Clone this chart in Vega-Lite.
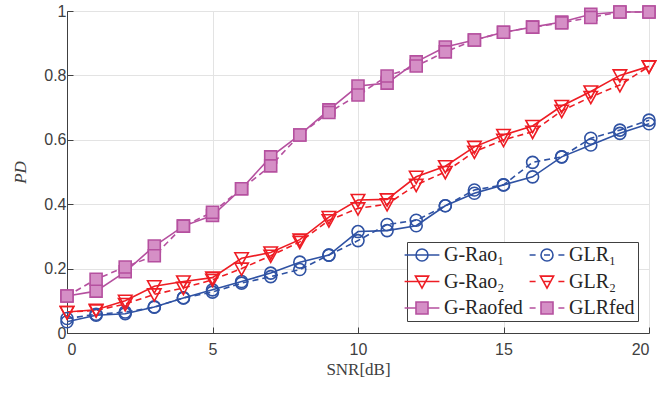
{
  "$schema": "https://vega.github.io/schema/vega-lite/v6.json",
  "width": 582,
  "height": 322,
  "autosize": {"type": "none"},
  "padding": {"left": 67, "top": 11, "right": 10, "bottom": 63},
  "background": "white",
  "config": {
    "view": {"stroke": "#404040", "strokeWidth": 1},
    "axis": {
      "grid": true,
      "gridColor": "#e3e3e3",
      "gridWidth": 1,
      "domainColor": "#404040",
      "tickColor": "#404040",
      "tickSize": -6,
      "labelFont": "Liberation Sans",
      "labelFontSize": 16,
      "labelColor": "#404040",
      "titleFont": "Liberation Serif",
      "titleFontWeight": "normal",
      "titleColor": "#404040"
    }
  },
  "data": {
    "values": [
      {"snr": 0, "G-Rao₁": 0.035, "GLR₁": 0.045, "G-Rao₂": 0.065, "GLR₂": 0.065, "G-Raofed": 0.115, "GLRfed": 0.115},
      {"snr": 1, "G-Rao₁": 0.055, "GLR₁": 0.058, "G-Rao₂": 0.072, "GLR₂": 0.07, "G-Raofed": 0.13, "GLRfed": 0.167},
      {"snr": 2, "G-Rao₁": 0.06, "GLR₁": 0.065, "G-Rao₂": 0.1, "GLR₂": 0.09, "G-Raofed": 0.19, "GLRfed": 0.205},
      {"snr": 3, "G-Rao₁": 0.081, "GLR₁": 0.08, "G-Rao₂": 0.145, "GLR₂": 0.12, "G-Raofed": 0.27, "GLRfed": 0.24},
      {"snr": 4, "G-Rao₁": 0.109, "GLR₁": 0.109, "G-Rao₂": 0.16, "GLR₂": 0.14, "G-Raofed": 0.332, "GLRfed": 0.332},
      {"snr": 5, "G-Rao₁": 0.134, "GLR₁": 0.127, "G-Rao₂": 0.172, "GLR₂": 0.165, "G-Raofed": 0.365, "GLRfed": 0.375},
      {"snr": 6, "G-Rao₁": 0.16, "GLR₁": 0.155, "G-Rao₂": 0.232, "GLR₂": 0.2, "G-Raofed": 0.448, "GLRfed": 0.448},
      {"snr": 7, "G-Rao₁": 0.186, "GLR₁": 0.175, "G-Rao₂": 0.25, "GLR₂": 0.24, "G-Raofed": 0.547, "GLRfed": 0.519},
      {"snr": 8, "G-Rao₁": 0.22, "GLR₁": 0.197, "G-Rao₂": 0.29, "GLR₂": 0.283, "G-Raofed": 0.615, "GLRfed": 0.615},
      {"snr": 9, "G-Rao₁": 0.242, "GLR₁": 0.242, "G-Rao₂": 0.36, "GLR₂": 0.35, "G-Raofed": 0.693, "GLRfed": 0.685},
      {"snr": 10, "G-Rao₁": 0.315, "GLR₁": 0.287, "G-Rao₂": 0.413, "GLR₂": 0.387, "G-Raofed": 0.767, "GLRfed": 0.739},
      {"snr": 11, "G-Rao₁": 0.318, "GLR₁": 0.337, "G-Rao₂": 0.415, "GLR₂": 0.4, "G-Raofed": 0.776, "GLRfed": 0.798},
      {"snr": 12, "G-Rao₁": 0.333, "GLR₁": 0.35, "G-Rao₂": 0.485, "GLR₂": 0.46, "G-Raofed": 0.842, "GLRfed": 0.829},
      {"snr": 13, "G-Rao₁": 0.395, "GLR₁": 0.395, "G-Rao₂": 0.518, "GLR₂": 0.5, "G-Raofed": 0.888, "GLRfed": 0.873},
      {"snr": 14, "G-Rao₁": 0.434, "GLR₁": 0.444, "G-Rao₂": 0.578, "GLR₂": 0.563, "G-Raofed": 0.91, "GLRfed": 0.91},
      {"snr": 15, "G-Rao₁": 0.46, "GLR₁": 0.46, "G-Rao₂": 0.615, "GLR₂": 0.6, "G-Raofed": 0.934, "GLRfed": 0.934},
      {"snr": 16, "G-Rao₁": 0.485, "GLR₁": 0.53, "G-Rao₂": 0.643, "GLR₂": 0.625, "G-Raofed": 0.95, "GLRfed": 0.95},
      {"snr": 17, "G-Rao₁": 0.547, "GLR₁": 0.547, "G-Rao₂": 0.705, "GLR₂": 0.69, "G-Raofed": 0.966, "GLRfed": 0.963},
      {"snr": 18, "G-Rao₁": 0.584, "GLR₁": 0.605, "G-Rao₂": 0.75, "GLR₂": 0.733, "G-Raofed": 0.99, "GLRfed": 0.98},
      {"snr": 19, "G-Rao₁": 0.62, "GLR₁": 0.63, "G-Rao₂": 0.8, "GLR₂": 0.77, "G-Raofed": 0.997, "GLRfed": 0.997},
      {"snr": 20, "G-Rao₁": 0.65, "GLR₁": 0.661, "G-Rao₂": 0.828, "GLR₂": 0.828, "G-Raofed": 0.997, "GLRfed": 0.997}
    ]
  },
  "transform": [
    {"fold": ["G-Rao₁", "GLR₁", "G-Rao₂", "GLR₂", "G-Raofed", "GLRfed"], "as": ["series", "pd"]}
  ],
  "encoding": {
    "x": {
      "field": "snr", "type": "quantitative",
      "scale": {"domain": [0, 20], "nice": false, "zero": false},
      "axis": {"values": [0, 5, 10, 15, 20], "title": "SNR[dB]", "titleFontSize": 17, "labelPadding": 14, "titlePadding": 4}
    },
    "y": {
      "field": "pd", "type": "quantitative",
      "scale": {"domain": [0, 1], "nice": false},
      "axis": {"values": [0, 0.2, 0.4, 0.6, 0.8, 1], "format": "~g", "title": "PD", "titleFontSize": 17, "titleFontStyle": "italic", "labelPadding": 7, "titlePadding": 14}
    },
    "stroke": {
      "field": "series", "type": "nominal",
      "scale": {
        "domain": ["G-Rao₁", "G-Rao₂", "G-Raofed", "GLR₁", "GLR₂", "GLRfed"],
        "range": ["#2f52a3", "#ee1d24", "#b5509f", "#2f52a3", "#ee1d24", "#b5509f"]
      }
    }
  },
  "layer": [
    {
      "transform": [{"filter": {"field": "series", "oneOf": ["G-Rao₁", "G-Rao₂", "G-Raofed"]}}],
      "mark": {"type": "line", "strokeWidth": 1.6}
    },
    {
      "transform": [{"filter": {"field": "series", "oneOf": ["GLR₁", "GLR₂", "GLRfed"]}}],
      "mark": {"type": "line", "strokeWidth": 1.6, "strokeDash": [6, 4]}
    },
    {
      "transform": [{"filter": {"field": "series", "oneOf": ["G-Rao₁", "GLR₁"]}}],
      "mark": {"type": "point", "shape": "circle", "size": 144, "strokeWidth": 1.6, "opacity": 1, "fill": "transparent"}
    },
    {
      "transform": [{"filter": {"field": "series", "oneOf": ["G-Rao₂", "GLR₂"]}}],
      "mark": {"type": "point", "shape": "M-1.1,-0.9L1.1,-0.9L0,1.1Z", "size": 150, "strokeWidth": 1.6, "opacity": 1, "fill": "transparent"}
    },
    {
      "transform": [{"filter": {"field": "series", "oneOf": ["G-Raofed", "GLRfed"]}}],
      "mark": {"type": "point", "shape": "square", "size": 144, "strokeWidth": 1.6, "opacity": 1, "fill": "#d58fc6", "filled": true}
    },
    {
      "transform": [{"filter": {"field": "snr", "gt": 100}}],
      "mark": {"type": "point", "strokeWidth": 1.6, "opacity": 1},
      "encoding": {
        "fill": {
          "field": "series", "type": "nominal",
          "scale": {
            "domain": ["G-Rao₁", "G-Rao₂", "G-Raofed", "GLR₁", "GLR₂", "GLRfed"],
            "range": ["transparent", "transparent", "#d58fc6", "transparent", "transparent", "#d58fc6"]
          }
        },
        "shape": {
          "field": "series", "type": "nominal",
          "scale": {
            "domain": ["G-Rao₁", "G-Rao₂", "G-Raofed", "GLR₁", "GLR₂", "GLRfed"],
            "range": [
              "M-2.9,0H2.9M-1,0C-1,-0.55 -0.55,-1 0,-1C0.55,-1 1,-0.55 1,0C1,0.55 0.55,1 0,1C-0.55,1 -1,0.55 -1,0Z",
              "M-2.9,0H2.9M-1.1,-0.9L1.1,-0.9L0,1.1Z",
              "M-2.9,0H-1M1,0H2.9M-1,-1H1V1H-1Z",
              "M-2.9,0H-1.9M-0.5,0H0.5M1.9,0H2.9M-1,0C-1,-0.55 -0.55,-1 0,-1C0.55,-1 1,-0.55 1,0C1,0.55 0.55,1 0,1C-0.55,1 -1,0.55 -1,0Z",
              "M-2.9,0H-1.9M1.9,0H2.9M-0.5,0H0.5M-1.1,-0.9L1.1,-0.9L0,1.1Z",
              "M-2.9,0H-1.9M1.9,0H2.9M-1,-1H1V1H-1Z"
            ]
          },
          "legend": {
            "orient": "none", "legendX": 340, "legendY": 231, "columns": 2, "title": null,
            "symbolSize": 144, "symbolStrokeWidth": 1.6, "symbolOpacity": 1, "symbolDash": [],
            "labelFont": "Liberation Serif", "labelFontSize": 20, "labelColor": "#262626",
            "strokeColor": "#404040", "fillColor": "white", "padding": 3,
            "symbolOffset": 2, "labelOffset": 12, "rowPadding": 6.5, "columnPadding": 3, "labelLimit": 300
          }
        }
      }
    }
  ]
}
